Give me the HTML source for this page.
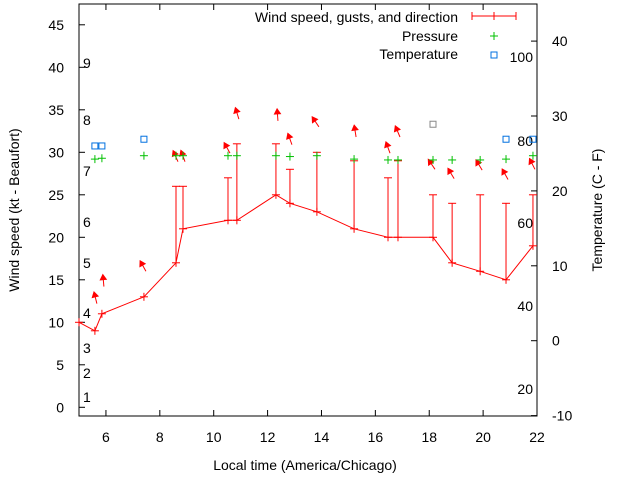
<!DOCTYPE html>
<html><head><meta charset="utf-8"><style>
body{margin:0;background:#fff;}
svg{display:block;font-family:"Liberation Sans",sans-serif;}
</style></head><body>
<svg id="c" width="640" height="480" viewBox="0 0 640 480"></svg>
<script>
const hours=[5.0,5.59,5.85,7.41,8.6,8.86,10.53,10.86,12.31,12.83,13.83,15.21,16.47,16.84,18.14,18.85,19.89,20.85,21.85];
const wind=[10,9,11,13,17,21,22,22,25,24,23,21,20,20,20,17,16,15,19];
const gust=[10,9,11,13,26,26,27,31,31,28,30,29,27,29,25,24,25,24,25];
const pressHours=[5.59,5.85,7.41,8.6,8.86,10.53,10.86,12.31,12.83,13.83,15.21,16.47,16.84,18.14,18.85,19.89,20.85,21.85];
const pressure=[29.2,29.3,29.6,29.6,29.6,29.6,29.6,29.6,29.5,29.6,29.2,29.1,29.1,29.1,29.1,29.1,29.2,29.6];
const arrowY=[12.2,14.2,16.0,28.9,28.9,29.9,33.9,33.7,30.9,33.0,31.8,29.9,31.8,28.0,26.9,27.9,26.8,28.0];
const arrowDir=[346,355,331,336,340,331,343,356,340,326,351,340,337,326,329,329,331,333];
const tempHours=[5.59,5.85,7.41,18.14,20.85,21.85];
const temps=[26.0,26.0,26.9,28.9,26.9,26.9];
const tempColor=['#0070e0','#0070e0','#0070e0','#888888','#0070e0','#0070e0'];
const xTicks=[6,8,10,12,14,16,18,20,22];
const yTicks=[0,5,10,15,20,25,30,35,40,45];
const y2Ticks=[-10,0,10,20,30,40];
const beaufort=[['1',397],['2',373],['3',348],['4',313],['5',263],['6',222],['7',171],['8',120],['9',63]];
const beaufortR=[['20',389],['40',306],['60',223],['80',141],['100',57]];

const L=79,R=537,T=4,B=416;
const X=h=>L+(h-5)*(R-L)/17;
const Y=v=>407.3-v*8.5;
const Y2=t=>340.7-t*7.49;
const svg=document.getElementById('c');
const NS='http://www.w3.org/2000/svg';
function mk(tag,attrs,parent){const e=document.createElementNS(NS,tag);for(const k in attrs)e.setAttribute(k,attrs[k]);(parent||svg).appendChild(e);return e;}
function txt(s,x,y,anchor,size,parent){const e=mk('text',{x:x,y:y,'text-anchor':anchor,'font-size':size,fill:'#000'},parent);e.textContent=s;return e;}

// axes box
const box=mk('rect',{x:L,y:T,width:R-L,height:B-T,fill:'none',stroke:'#000','stroke-width':1});



const gx=mk('g',{});


xTicks.forEach(t=>{const x=X(t);mk('line',{x1:x,y1:B,x2:x,y2:B-6,stroke:'#000'},gx);mk('line',{x1:x,y1:T,x2:x,y2:T+6,stroke:'#000'},gx);const e=txt(String(t),x,442,'middle',14,gx);});
const gy=mk('g',{});


yTicks.forEach(t=>{const y=Y(t);mk('line',{x1:L,y1:y,x2:L+6,y2:y,stroke:'#000'},gy);const e=txt(String(t),64,y+5,'end',14,gy);});
const gy2=mk('g',{});


y2Ticks.forEach(t=>{const y=Y2(t);mk('line',{x1:R,y1:y,x2:R-6,y2:y,stroke:'#000'},gy2);const e=txt(String(t),552,y+5,'start',14,gy2);});

const gb=mk('g',{});


beaufort.forEach(b=>txt(b[0],83,b[1]+5,'start',14,gb));
beaufortR.forEach(b=>txt(b[0],533,b[1]+5,'end',14,gb));

let t1=txt('Wind speed (kt - Beaufort)',0,0,'middle',14);
t1.setAttribute('transform','translate(19,210) rotate(-90)');


let t2=txt('Temperature (C - F)',0,0,'middle',14);
t2.setAttribute('transform','translate(602,210) rotate(-90)');


let t3=txt('Local time (America/Chicago)',305,470,'middle',14);



// wind series
const gw=mk('g',{stroke:'#f00',fill:'none','stroke-width':1});


mk('polyline',{points:hours.map((h,i)=>X(h)+','+Y(wind[i])).join(' ')},gw);
hours.forEach((h,i)=>{const x=X(h),y=Y(wind[i]);
 mk('line',{x1:x-4,y1:y,x2:x+4,y2:y},gw);mk('line',{x1:x,y1:y-4,x2:x,y2:y+4},gw);
 if(gust[i]>wind[i]){const g=Y(gust[i]);mk('line',{x1:x,y1:y,x2:x,y2:g},gw);mk('line',{x1:x-4,y1:g,x2:x+4,y2:g},gw);}
});
// arrows
const ga=mk('g',{});


arrowY.forEach((v,i)=>{const x=X(hours[i+1])+2,y=Y(v);const a=arrowDir[i]*Math.PI/180;const dx=Math.sin(a),dy=-Math.cos(a);
 const hx=x+dx*12,hy=y+dy*12;mk('line',{x1:x,y1:y,x2:hx,y2:hy,stroke:'#f00'},ga);
 const px=-dy,py=dx;mk('polygon',{points:`${hx},${hy} ${hx-dx*5+px*3},${hy-dy*5+py*3} ${hx-dx*5-px*3},${hy-dy*5-py*3}`,fill:'#f00',stroke:'#f00'},ga);});
// pressure
const gp=mk('g',{stroke:'#00c000','stroke-width':1});


pressHours.forEach((h,i)=>{const x=X(h),y=Y(pressure[i]);mk('line',{x1:x-4,y1:y,x2:x+4,y2:y},gp);mk('line',{x1:x,y1:y-4,x2:x,y2:y+4},gp);});
// temperature
const gt=mk('g',{fill:'none'});


tempHours.forEach((h,i)=>{mk('rect',{x:X(h)-3,y:Y2(temps[i])-3,width:6,height:6,stroke:tempColor[i]},gt);});

// legend
const lg=mk('g',{});


txt('Wind speed, gusts, and direction',458,22,'end',14,lg);
mk('line',{x1:472,y1:16,x2:516,y2:16,stroke:'#f00'},lg);
[472,494,516].forEach(x=>mk('line',{x1:x,y1:12,x2:x,y2:20,stroke:'#f00'},lg));
txt('Pressure',458,41,'end',14,lg);
mk('line',{x1:490,y1:36,x2:498,y2:36,stroke:'#00c000'},lg);mk('line',{x1:494,y1:32,x2:494,y2:40,stroke:'#00c000'},lg);
txt('Temperature',458,59,'end',14,lg);
mk('rect',{x:491,y:52,width:6,height:6,fill:'none',stroke:'#0070e0'},lg);
</script>
</body></html>
